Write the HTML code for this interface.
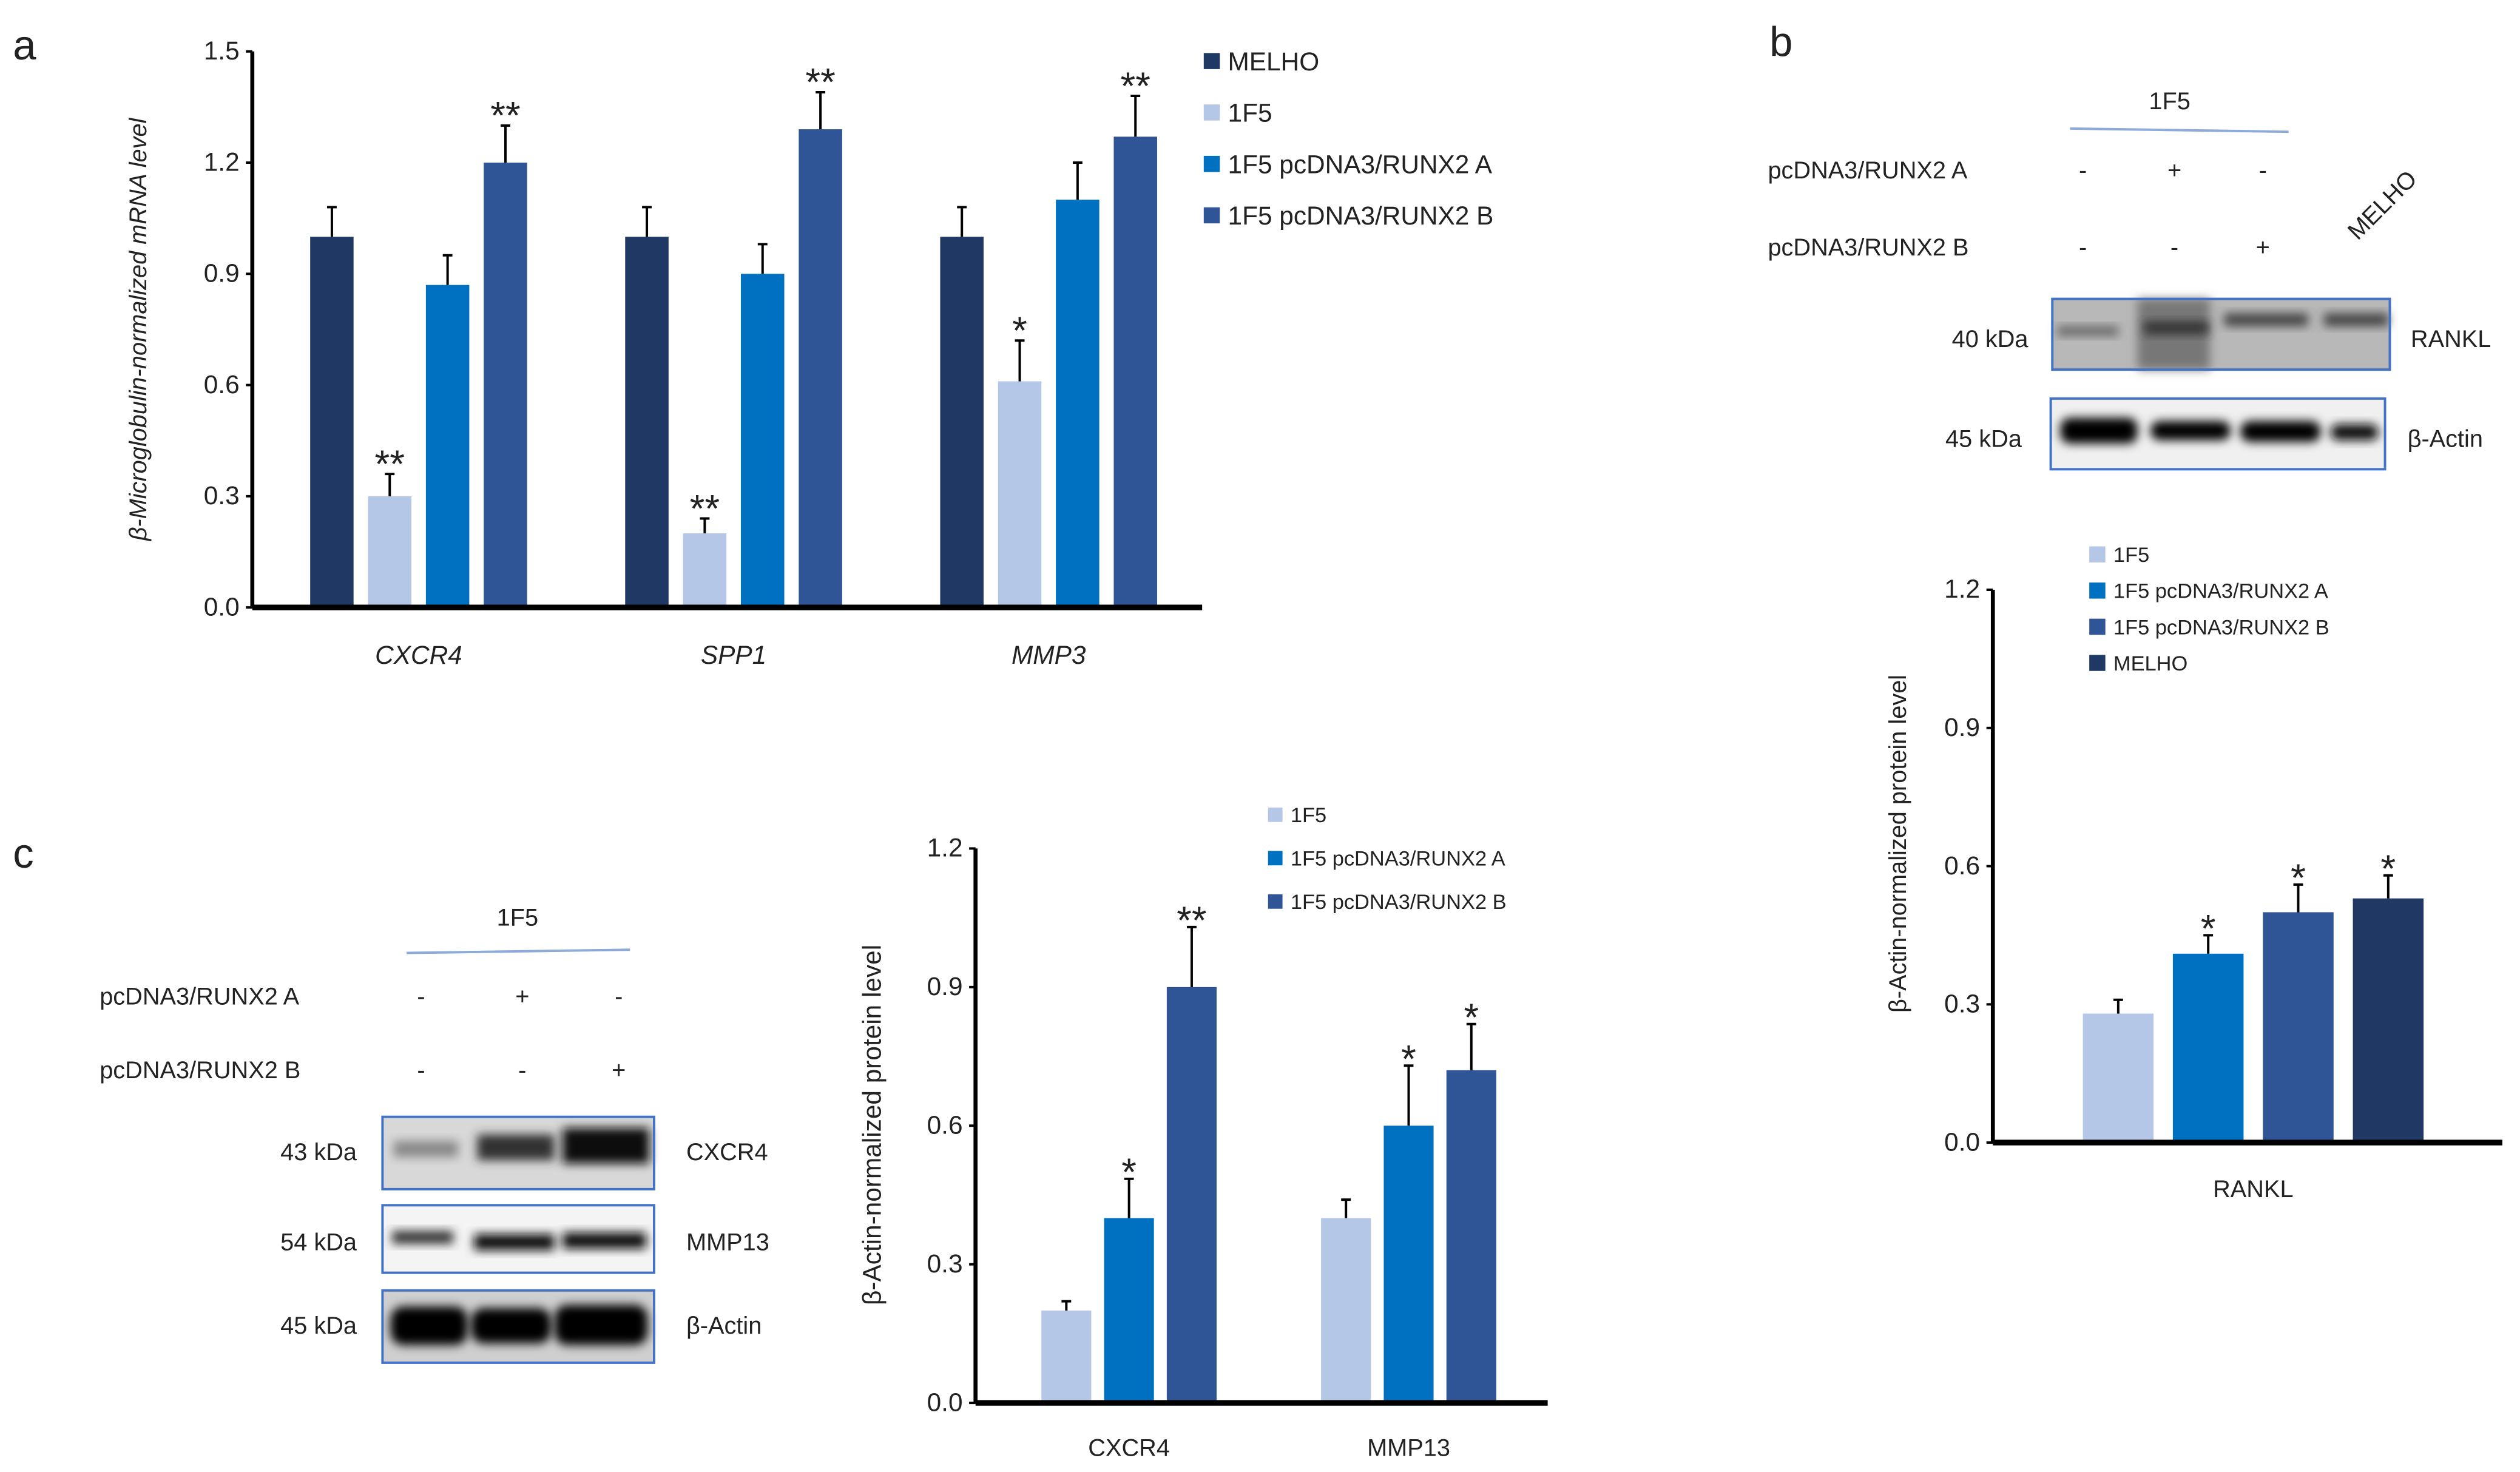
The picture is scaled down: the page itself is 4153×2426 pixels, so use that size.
<!DOCTYPE html>
<html><head><meta charset="utf-8"><style>
html,body{margin:0;padding:0;background:#fff;}
svg{display:block;}
text{font-family:"Liberation Sans",sans-serif;fill:#222;}
</style></head><body>
<svg id="fig" width="4153" height="2426" viewBox="0 0 1568 916" preserveAspectRatio="none" xmlns="http://www.w3.org/2000/svg">
<defs>
<filter id="blur" x="-20%" y="-50%" width="140%" height="200%"><feGaussianBlur stdDeviation="3"/></filter>
</defs>
<text x="8" y="37" font-size="26">a</text>
<text x="1101" y="35" font-size="26">b</text>
<text x="8" y="540" font-size="26">c</text>
<g id="chartA"></g>
<g id="chartB"></g>
<g id="chartC"></g>

<!-- Blot b -->
<g font-size="15">
<text x="1350" y="68" text-anchor="middle">1F5</text>
<line x1="1288" y1="80" x2="1424" y2="82" stroke="#8eaadb" stroke-width="1.5"/>
<text x="1100" y="111">pcDNA3/RUNX2 A</text>
<text x="1100" y="159">pcDNA3/RUNX2 B</text>
<text x="1296" y="111" text-anchor="middle">-</text><text x="1353" y="111" text-anchor="middle">+</text><text x="1408" y="111" text-anchor="middle">-</text>
<text x="1296" y="159" text-anchor="middle">-</text><text x="1353" y="159" text-anchor="middle">-</text><text x="1408" y="159" text-anchor="middle">+</text>
<text x="0" y="0" transform="translate(1467,150) rotate(-45)">MELHO</text>
<text x="1262" y="216" text-anchor="end">40 kDa</text>
<text x="1500" y="216">RANKL</text>
<text x="1258" y="278" text-anchor="end">45 kDa</text>
<text x="1498" y="278">β-Actin</text>
<rect x="1277" y="186" width="210" height="44" fill="#b8b8b8"/>
<rect x="1330" y="186" width="45" height="44" fill="#777" filter="url(#blur)"/>
<rect x="1280" y="203" width="38" height="6" fill="#666" filter="url(#blur)"/>
<rect x="1334" y="200" width="40" height="8" fill="#333" filter="url(#blur)"/>
<rect x="1384" y="195" width="52" height="8" fill="#444" filter="url(#blur)"/>
<rect x="1446" y="195" width="40" height="8" fill="#444" filter="url(#blur)"/>
<rect x="1277" y="186" width="210" height="44" fill="none" stroke="#4472c4" stroke-width="1.5"/>
<rect x="1276" y="248" width="208" height="44" fill="#f0f0f0"/>
<rect x="1282" y="260" width="48" height="16" rx="6" fill="#000" filter="url(#blur)"/>
<rect x="1338" y="262" width="50" height="12" rx="6" fill="#000" filter="url(#blur)"/>
<rect x="1394" y="262" width="50" height="13" rx="6" fill="#000" filter="url(#blur)"/>
<rect x="1450" y="264" width="30" height="10" rx="5" fill="#111" filter="url(#blur)"/>
<rect x="1276" y="248" width="208" height="44" fill="none" stroke="#4472c4" stroke-width="1.5"/>
</g>

<!-- Blot c -->
<g font-size="15">
<text x="322" y="576" text-anchor="middle">1F5</text>
<line x1="253" y1="593" x2="392" y2="591" stroke="#8eaadb" stroke-width="1.5"/>
<text x="62" y="625">pcDNA3/RUNX2 A</text>
<text x="62" y="671">pcDNA3/RUNX2 B</text>
<text x="262" y="625" text-anchor="middle">-</text><text x="325" y="625" text-anchor="middle">+</text><text x="385" y="625" text-anchor="middle">-</text>
<text x="262" y="671" text-anchor="middle">-</text><text x="325" y="671" text-anchor="middle">-</text><text x="385" y="671" text-anchor="middle">+</text>
<text x="222" y="722" text-anchor="end">43 kDa</text><text x="427" y="722">CXCR4</text>
<text x="222" y="778" text-anchor="end">54 kDa</text><text x="427" y="778">MMP13</text>
<text x="222" y="830" text-anchor="end">45 kDa</text><text x="427" y="830">β-Actin</text>
<rect x="238" y="695" width="169" height="45" fill="#d8d8d8"/>
<rect x="245" y="710" width="40" height="10" fill="#888" filter="url(#blur)"/>
<rect x="297" y="706" width="48" height="16" fill="#333" filter="url(#blur)"/>
<rect x="350" y="702" width="54" height="22" fill="#111" filter="url(#blur)"/>
<rect x="238" y="695" width="169" height="45" fill="none" stroke="#4472c4" stroke-width="1.5"/>
<rect x="238" y="750" width="169" height="42" fill="#f4f4f4"/>
<rect x="244" y="766" width="38" height="8" fill="#333" filter="url(#blur)"/>
<rect x="295" y="768" width="50" height="10" fill="#111" filter="url(#blur)"/>
<rect x="350" y="767" width="52" height="10" fill="#111" filter="url(#blur)"/>
<rect x="238" y="750" width="169" height="42" fill="none" stroke="#4472c4" stroke-width="1.5"/>
<rect x="238" y="803" width="169" height="45" fill="#cfcfcf"/>
<rect x="243" y="813" width="48" height="24" rx="8" fill="#000" filter="url(#blur)"/>
<rect x="293" y="814" width="50" height="22" rx="8" fill="#000" filter="url(#blur)"/>
<rect x="345" y="812" width="58" height="25" rx="8" fill="#000" filter="url(#blur)"/>
<rect x="238" y="803" width="169" height="45" fill="none" stroke="#4472c4" stroke-width="1.5"/>
</g>

<script>
var catsA = ["CXCR4","SPP1","MMP3"];
var seriesA = ["MELHO","1F5","1F5 pcDNA3/RUNX2 A","1F5 pcDNA3/RUNX2 B"];
var valsA = [[1.0,1.0,1.0],[0.30,0.20,0.61],[0.87,0.90,1.10],[1.20,1.29,1.27]];
var errA = [[0.08,0.08,0.08],[0.06,0.04,0.11],[0.08,0.08,0.10],[0.10,0.10,0.11]];
var sigA = [["","",""],["**","**","*"],["","",""],["**","**","**"]];
var ticksA = [0.0,0.3,0.6,0.9,1.2,1.5];

var catsB = ["RANKL"];
var seriesB = ["1F5","1F5 pcDNA3/RUNX2 A","1F5 pcDNA3/RUNX2 B","MELHO"];
var valsB = [[0.28],[0.41],[0.50],[0.53]];
var errB = [[0.03],[0.04],[0.06],[0.05]];
var sigB = [[""],["*"],["*"],["*"]];
var ticksB = [0.0,0.3,0.6,0.9,1.2];

var catsC = ["CXCR4","MMP13"];
var seriesC = ["1F5","1F5 pcDNA3/RUNX2 A","1F5 pcDNA3/RUNX2 B"];
var valsC = [[0.20,0.40],[0.40,0.60],[0.90,0.72]];
var errC = [[0.02,0.04],[0.085,0.13],[0.13,0.10]];
var sigC = [["",""],["*","*"],["**","*"]];
var ticksC = [0.0,0.3,0.6,0.9,1.2];

var COL = {"MELHO":"#203864","1F5":"#b4c7e7","1F5 pcDNA3/RUNX2 A":"#0070c0","1F5 pcDNA3/RUNX2 B":"#2f5597"};
var NS = "http://www.w3.org/2000/svg";
function mk(parent, tag, attrs){var e=document.createElementNS(NS,tag);for(var k in attrs)e.setAttribute(k,attrs[k]);parent.appendChild(e);return e;}

function drawChart(g, cfg, cats, series, vals, errs, sigs, ticks){
  var y = function(v){return cfg.y0 - (v - ticks[0])/(ticks[ticks.length-1]-ticks[0])*(cfg.y0-cfg.y1);};
  ticks.forEach(function(t){
    var tl = mk(g,"line",{x1:cfg.ax-4,x2:cfg.ax,y1:y(t),y2:y(t),stroke:"#000","stroke-width":1.5});
    
    
    var tx = mk(g,"text",{x:cfg.ax-8,y:y(t)+5,"text-anchor":"end","font-size":cfg.fs});
    tx.textContent = t.toFixed(1);
    
    
  });
  cats.forEach(function(c, ci){
    var gx = cfg.gx0 + ci*cfg.gstep;
    series.forEach(function(s, si){
      var x = gx + si*cfg.bstep;
      var v = vals[si][ci], e = errs[si][ci];
      var r = mk(g,"rect",{x:x,y:y(v),width:cfg.bw,height:y(0)-y(v),fill:COL[s]});
      
      
      var cx = x + cfg.bw/2;
      var el = mk(g,"path",{d:"M"+cx+","+y(v)+"V"+y(v+e)+"M"+(cx-3)+","+y(v+e)+"H"+(cx+3),stroke:"#000","stroke-width":1.5,fill:"none"});
      
      
      if(sigs[si][ci]){
        var st = mk(g,"text",{x:cx,y:y(v+e)+cfg.sigOff,"text-anchor":"middle","font-size":cfg.sfs});
        st.textContent = sigs[si][ci];
        
        
      }
    });
    var cl = mk(g,"text",{x:gx + (series.length*cfg.bstep - (cfg.bstep-cfg.bw))/2,y:cfg.catY,"text-anchor":"middle","font-size":cfg.cfs,"font-style":cfg.italic?"italic":"normal"});
    cl.textContent = c;
    
    
  });
  var ya = mk(g,"line",{x1:cfg.ax,x2:cfg.ax,y1:y(ticks[ticks.length-1]),y2:y(0),stroke:"#000","stroke-width":2.5});
  
  
  var xa = mk(g,"line",{x1:cfg.ax,x2:cfg.axEnd,y1:y(0),y2:y(0),stroke:"#000","stroke-width":3.5});
  
  
  var yt = mk(g,"text",{transform:"translate("+cfg.ylx+","+cfg.lyc+") rotate(-90)","text-anchor":"middle","font-size":cfg.lfs,"font-style":cfg.italic?"italic":"normal"});
  yt.textContent = cfg.ylabel;
  
  
  series.forEach(function(s, si){
    var ly = cfg.legY + si*cfg.legStep;
    var sq = mk(g,"rect",{x:cfg.legX,y:ly-cfg.legSq/2,width:cfg.legSq,height:cfg.legSq,fill:COL[s]});
    
    
    var lt = mk(g,"text",{x:cfg.legX+cfg.legSq+5,y:ly+cfg.legFs*0.36,"font-size":cfg.legFs});
    lt.textContent = s;
    
    
  });
}

drawChart(document.getElementById("chartA"),
 {y0:378,y1:32,ax:157,axEnd:748,gx0:193,gstep:196,bstep:36,bw:27,fs:16,sfs:24,sigOff:2,cfs:16,catY:413,italic:true,
  ylx:91,lyc:205,lfs:15,ylabel:"β-Microglobulin-normalized mRNA level",legX:749,legY:38,legStep:32,legSq:10,legFs:16},
 catsA, seriesA, valsA, errA, sigA, ticksA);
drawChart(document.getElementById("chartB"),
 {y0:711,y1:367,ax:1240,axEnd:1557,gx0:1296,gstep:0,bstep:56,bw:44,fs:16,sfs:24,sigOff:4,cfs:15,catY:745,italic:false,
  ylx:1186,lyc:525,lfs:15,ylabel:"β-Actin-normalized protein level",legX:1300,legY:345,legStep:22.5,legSq:10,legFs:13},
 catsB, seriesB, valsB, errB, sigB, ticksB);
drawChart(document.getElementById("chartC"),
 {y0:873,y1:528,ax:607,axEnd:963,gx0:648,gstep:174,bstep:39,bw:31,fs:16,sfs:24,sigOff:4,cfs:15,catY:906,italic:false,
  ylx:548,lyc:700,lfs:16,ylabel:"β-Actin-normalized protein level",legX:789,legY:507,legStep:27,legSq:9,legFs:13},
 catsC, seriesC, valsC, errC, sigC, ticksC);
</script>
</svg>
</body></html>
